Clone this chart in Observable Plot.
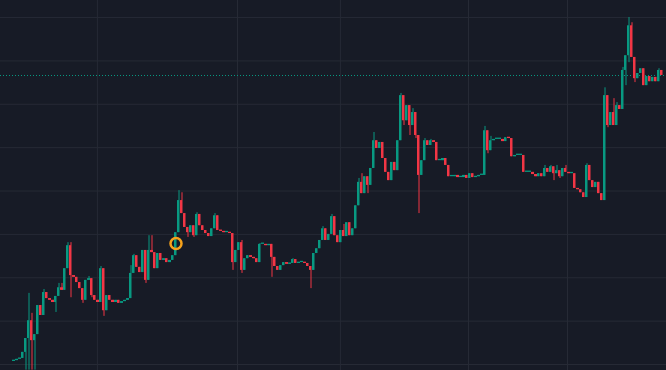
<!DOCTYPE html>
<html>
<head>
<meta charset="utf-8">
<script src="https://cdn.jsdelivr.net/npm/d3@7"></script>
<script src="https://cdn.jsdelivr.net/npm/@observablehq/plot@0.6"></script>
<style>
  html, body { margin: 0; padding: 0; background: #171b26; overflow: hidden; }
  #chart svg { display: block; }
</style>
</head>
<body>
<div id="chart"></div>
<script>
// ---- data (price units; open of each candle = previous close) ----
const firstOpen = 0.7;
const closes = [
  0.9, 1.2, 1.4, 2.8, 6.0, 10.1, 5.5, 6.9, 13.6, 11.3,
  16.6, 15.2, 14.8, 14.3, 15.7, 17.7, 17.1, 22.1, 27.4, 20.5,
  20.1, 18.9, 17.5, 14.8, 19.4, 19.8, 15.9, 14.8, 14.3, 22.1,
  12.4, 15.9, 14.8, 14.3, 14.8, 14.1, 14.5, 14.8, 15.2, 21.0,
  25.1, 22.4, 21.2, 26.3, 19.4, 26.3, 25.8, 22.1, 25.6, 24.0,
  24.4, 23.5, 24.0, 25.1, 30.4, 37.8, 34.8, 31.6, 30.4, 32.0,
  29.7, 34.6, 32.0, 30.9, 30.2, 29.5, 31.3, 34.3, 30.9, 30.7,
  30.4, 30.4, 30.2, 23.5, 26.3, 28.1, 21.7, 24.4, 25.1, 24.7,
  24.4, 23.5, 27.7, 27.7, 27.4, 27.7, 24.7, 22.6, 21.7, 22.8,
  23.5, 23.1, 23.3, 24.2, 23.3, 23.5, 23.5, 23.3, 22.6, 21.7,
  25.6, 26.7, 28.6, 31.3, 28.6, 30.0, 34.1, 29.7, 28.1, 30.9,
  29.5, 32.7, 29.7, 31.3, 36.6, 42.0, 39.4, 43.3, 41.3, 45.2,
  51.6, 49.8, 51.2, 47.5, 44.3, 42.4, 46.6, 44.7, 51.6, 62.0,
  56.2, 59.7, 55.1, 58.1, 52.8, 43.6, 47.0, 51.6, 50.5, 51.6,
  51.2, 47.0, 47.0, 47.5, 45.9, 43.3, 43.3, 43.6, 43.1, 43.1,
  43.6, 42.9, 44.0, 43.1, 43.3, 43.6, 43.6, 53.9, 49.3, 51.6,
  51.9, 51.9, 51.9, 51.4, 52.3, 52.1, 47.9, 48.2, 48.2, 48.2,
  44.3, 44.3, 44.3, 43.8, 43.3, 44.0, 43.3, 45.2, 44.3, 45.6,
  44.0, 44.7, 43.3, 45.2, 44.3, 44.0, 44.0, 40.6, 40.3, 39.6,
  38.5, 45.9, 42.4, 40.8, 42.0, 39.4, 37.8, 62.0, 55.1, 58.1,
  55.1, 59.7, 58.8, 67.8, 71.2, 78.1, 70.8, 65.9, 67.1, 68.2,
  64.3, 66.4, 65.2, 66.2, 65.2, 67.8, 66.64
];
// [candle index, high] where the wick goes above the body
const highWicks = [
  [5,16.4],[6,11.8],[10,17.3],[15,18.7],[16,18.7],[18,28.1],[19,28.1],[25,20.3],
  [29,22.6],[39,22.8],[40,25.4],[44,24.4],[45,29.7],[46,29.7],[55,40.1],[56,39.6],
  [61,35.0],[67,34.8],[76,28.6],[82,27.9],[93,24.4],[103,31.8],[106,34.6],[110,32.3],
  [115,42.9],[116,44.0],[120,53.5],[129,62.5],[133,59.0],[137,52.1],[139,51.9],
  [157,54.9],[159,52.6],[177,45.9],[179,45.9],[181,45.9],[184,45.9],[191,46.3],
  [197,63.8],[200,61.3],[201,60.4],[203,68.5],[205,80.0],[206,78.8],[215,68.2]
];
// [candle index, low] where the wick goes below the body
const lowWicks = [
  [4,-1.3],[5,-1.3],[6,-1.3],[7,-1.3],[14,12.0],[19,15.4],[23,14.1],[26,15.4],
  [30,11.1],[31,13.1],[44,18.7],[58,29.3],[60,29.3],[73,21.7],[76,21.0],[86,20.1],
  [99,17.5],[118,39.4],[130,55.1],[132,52.8],[134,52.1],[135,34.8],[158,48.6],
  [180,42.4],[182,42.9],[198,54.6],[204,64.3],[205,69.6],[207,65.0]
];
const priceGrid = [0, 10, 20, 30, 40, 50, 60, 70, 80];
const timeGrid = [27.8, 74.5, 108.8, 151.5, 184.5];
const markerIndex = 54;
const markerPrice = 27.9;

// ---- build candles ----
const candles = closes.map((c, i) => {
  const open = i === 0 ? firstOpen : closes[i - 1];
  return {i, open, close: c, high: Math.max(open, c), low: Math.min(open, c)};
});
highWicks.forEach(([i, v]) => { candles[i].high = Math.max(candles[i].high, v); });
lowWicks.forEach(([i, v]) => { candles[i].low = Math.min(candles[i].low, v); });
candles.forEach(d => {
  d.up = d.close >= d.open;
  d.b0 = Math.min(d.open, d.close);
  d.b1 = Math.max(d.open, d.close);
  d.flat = d.b1 - d.b0 < 0.6;
});
const lastPrice = closes[closes.length - 1];

const UP = "#089981", DOWN = "#f23645", GRID = "#262a35";

const chart = Plot.plot({
  width: 666,
  height: 370,
  margin: 0,
  style: {background: "#171b26", overflow: "hidden"},
  x: {domain: [-4.5, 217.5], axis: null},
  y: {domain: [-1.38, 83.93], axis: null},
  marks: [
    Plot.ruleY(priceGrid, {stroke: GRID, strokeWidth: 1}),
    Plot.ruleX(timeGrid, {stroke: GRID, strokeWidth: 1}),
    Plot.ruleY([lastPrice], {stroke: UP, strokeWidth: 1, strokeDasharray: "1,2"}),
    Plot.ruleX(candles, {x: "i", y1: "low", y2: "high", stroke: d => d.up ? UP : DOWN, strokeWidth: 1}),
    // bodies with a real height: 2px wide
    Plot.rect(candles.filter(d => !d.flat), {
      x1: d => d.i - 0.5, x2: d => d.i + 0.5, insetRight: 1,
      y1: "b0", y2: "b1",
      fill: d => d.up ? UP : DOWN
    }),
    // near-flat bodies: full step wide so flat runs join up
    Plot.rect(candles.filter(d => d.flat), {
      x1: d => d.i - 0.5, x2: d => d.i + 0.5,
      y1: "b0", y2: d => Math.max(d.b1, d.b0 + 0.3),
      fill: d => d.up ? UP : DOWN
    }),
    Plot.dot([{i: markerIndex, p: markerPrice}], {x: "i", y: "p", r: 5.5, stroke: "#f7a21b", strokeWidth: 2.5, fill: "none"})
  ]
});
document.getElementById("chart").appendChild(chart);
</script>
</body>
</html>
